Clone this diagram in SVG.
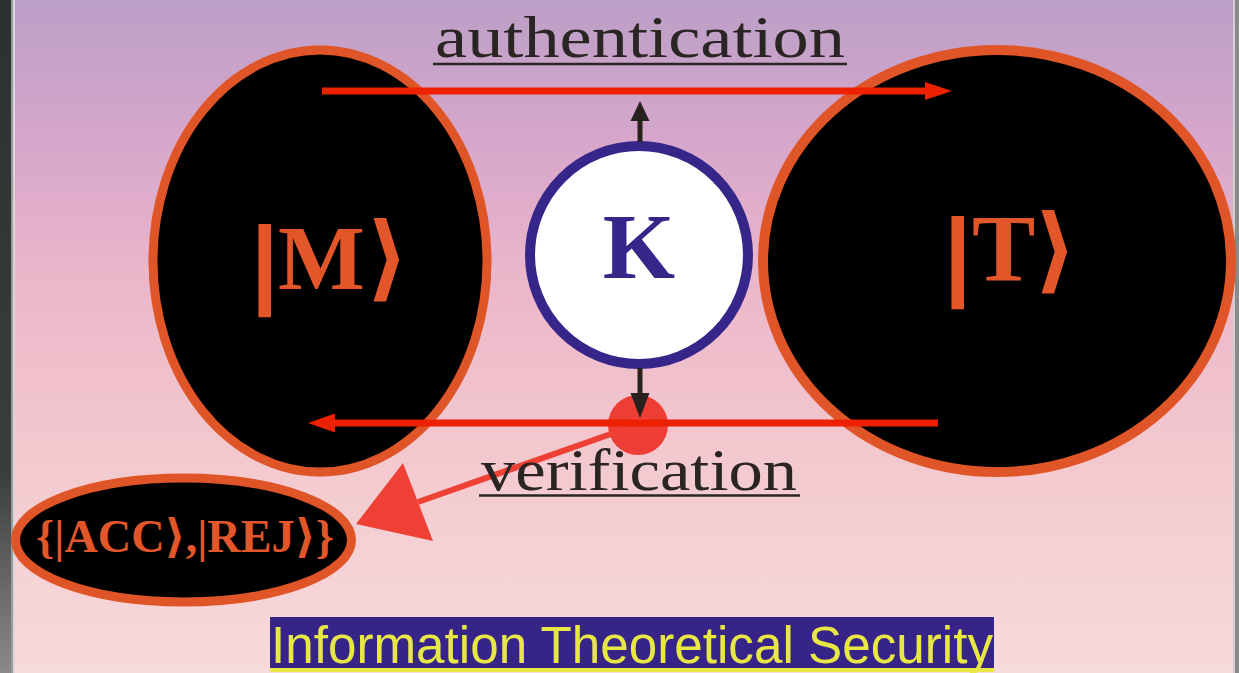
<svg xmlns="http://www.w3.org/2000/svg" width="1239" height="673" viewBox="0 0 1239 673">
  <defs>
    <linearGradient id="bg" x1="0" y1="0" x2="0" y2="1">
      <stop offset="0" stop-color="#BC9FC7"/>
      <stop offset="0.2" stop-color="#D6A6CB"/>
      <stop offset="0.45" stop-color="#EDB9CA"/>
      <stop offset="0.7" stop-color="#F3CACF"/>
      <stop offset="1" stop-color="#F7DADC"/>
    </linearGradient>
    <linearGradient id="edgeL" x1="0" y1="0" x2="0" y2="1">
      <stop offset="0" stop-color="#2c3030"/>
      <stop offset="0.7" stop-color="#3a3d3d"/>
      <stop offset="1" stop-color="#8a8a8a"/>
    </linearGradient>
    <style>
      .ket { fill: #E2562A; font-family: "Liberation Serif", "DejaVu Serif", serif; font-weight: bold; }
      .bar { font-family: "Liberation Sans", Arial, sans-serif; font-weight: bold; }
      .brk { font-family: "DejaVu Sans", "Liberation Sans", sans-serif; font-weight: bold; }
      .node { fill: #000; stroke: #E05527; }
      .label { fill: #2A2522; font-family: "Liberation Serif", "DejaVu Serif", serif; font-size: 60px; }
      .uline { stroke: #2A2522; stroke-width: 2.5; }
      .msg { stroke: #ED2100; stroke-width: 7; fill: none; }
      .keyarrow { stroke: #28221F; stroke-width: 5; }
    </style>
  </defs>

  <!-- backdrop -->
  <rect x="0" y="0" width="1239" height="673" fill="url(#bg)"/>
  <rect x="0" y="0" width="12" height="673" fill="url(#edgeL)"/>
  <rect x="11" y="0" width="2" height="673" fill="#9a9c9c"/>
  <rect x="13" y="0" width="2" height="673" fill="#d8d8d8"/>
  <rect x="1233" y="0" width="2" height="673" fill="#d0d0d0"/>
  <rect x="1235" y="0" width="4" height="673" fill="#8a8a8a"/>

  <!-- message state |M> -->
  <g id="node-M">
    <ellipse class="node" cx="320" cy="261" rx="167" ry="211" stroke-width="9"/>
    <text class="ket" font-size="92" y="289"><tspan class="bar" x="251" font-size="98" dy="6">|</tspan><tspan x="278" dy="-6">M</tspan><tspan class="brk" x="366" font-size="94">⟩</tspan></text>
  </g>

  <!-- tag state |T> -->
  <g id="node-T">
    <ellipse class="node" cx="997" cy="261" rx="234" ry="211" stroke-width="10"/>
    <text class="ket" font-size="95" y="281"><tspan class="bar" x="944" font-size="98" dy="6">|</tspan><tspan x="972" dy="-6">T</tspan><tspan class="brk" x="1034" font-size="94">⟩</tspan></text>
  </g>

  <!-- outcome set -->
  <g id="node-result">
    <ellipse class="node" cx="183.5" cy="540" rx="168" ry="62" stroke-width="9"/>
    <text class="ket" font-size="46" x="36" y="552" textLength="298" lengthAdjust="spacingAndGlyphs">{|ACC⟩,|REJ⟩}</text>
  </g>

  <!-- shared key -->
  <g id="node-K">
    <circle cx="639" cy="255" r="109" fill="#FFFFFF" stroke="#36268A" stroke-width="10"/>
    <text x="639" y="278" text-anchor="middle" font-family="Liberation Serif, DejaVu Serif, serif" font-weight="bold" font-size="93" fill="#36268A">K</text>
  </g>

  <!-- verification point -->
  <g id="node-check">
    <circle cx="638" cy="425" r="30" fill="#EE3D35"/>
  </g>

  <g id="connectors">
    <!-- authentication: M to T -->
    <line class="msg" x1="322" y1="91" x2="928" y2="91"/>
    <polygon points="925,82 952,91 925,100" fill="#ED2100"/>
    <!-- verification: T to M -->
    <line class="msg" x1="938" y1="423" x2="332" y2="423"/>
    <polygon points="335,413.5 308,423 335,432.5" fill="#ED2100"/>
    <!-- key usage -->
    <line class="keyarrow" x1="640" y1="142" x2="640" y2="118"/>
    <polygon points="630.5,121 640,101 649.5,121" fill="#28221F"/>
    <line class="keyarrow" x1="640" y1="368" x2="640" y2="396"/>
    <polygon points="630.5,393 640,418 649.5,393" fill="#28221F"/>
    <!-- verdict -->
    <line x1="625" y1="429" x2="418" y2="502" stroke="#EE4035" stroke-width="6"/>
    <polygon points="403,463 356,524 433,541" fill="#EE4035"/>
  </g>

  <!-- labels -->
  <g id="label-authentication">
    <text class="label" x="435" y="57" textLength="410" lengthAdjust="spacingAndGlyphs">authentication</text>
    <line class="uline" x1="433" y1="64" x2="847" y2="64"/>
  </g>
  <g id="label-verification">
    <text class="label" x="481" y="490" textLength="316" lengthAdjust="spacingAndGlyphs">verification</text>
    <line class="uline" x1="479" y1="495.5" x2="800" y2="495.5"/>
  </g>

  <!-- title -->
  <g id="title">
    <rect x="270" y="617" width="724" height="51" fill="#372488"/>
    <text x="271" y="663" font-family="Liberation Sans, Arial, sans-serif" font-size="51" fill="#E8E845" textLength="722" lengthAdjust="spacingAndGlyphs">Information Theoretical Security</text>
    <rect x="270" y="668" width="724" height="4" fill="#E8E845"/>
  </g>
</svg>
